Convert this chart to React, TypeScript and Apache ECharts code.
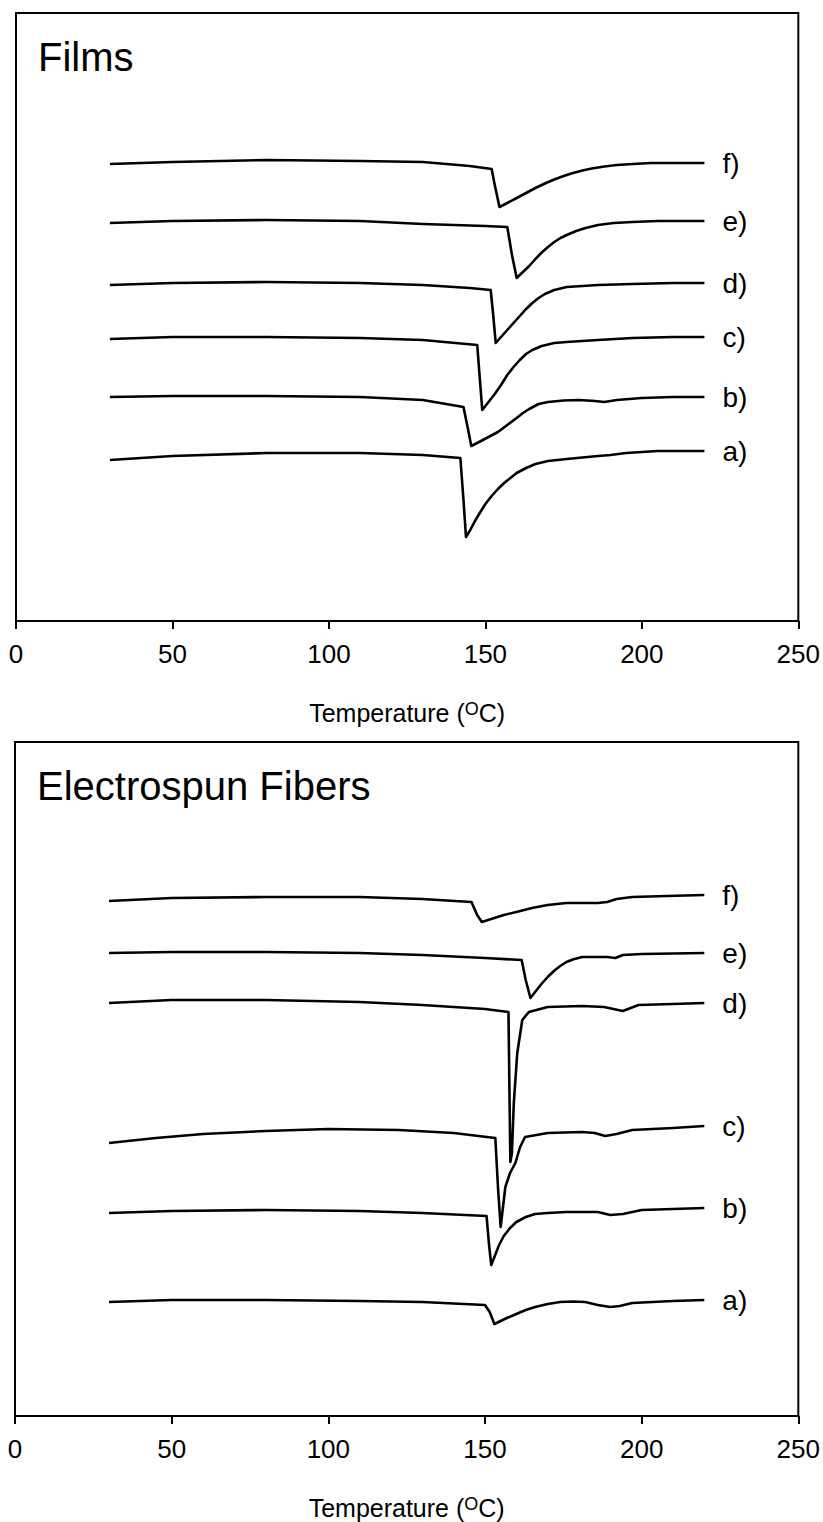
import React, { useEffect, useRef } from "react";
import * as echarts from "echarts";

// Temperature axis ticks (°C)
const tempTicks = [0, 50, 100, 150, 200, 250];
const seriesNames = ["a)", "b)", "c)", "d)", "e)", "f)"];

// DSC heat flow traces (arbitrary units, endotherm down), [temperature °C, signal]
// Films
const filmA = [[30,16.1],[50,16.5],[80,16.8],[110,16.8],[130,16.6],[142,16.3],[143,12.1],[143.8,8.4],[145,9.0],[146.5,9.9],[148,10.7],[150,11.7],[152,12.5],[154,13.2],[156,13.8],[158,14.3],[160,14.8],[163,15.3],[166,15.7],[170,16.0],[176,16.2],[186,16.5],[190,16.6],[195,16.8],[205,17.0],[220,17.0]];
const filmB = [[30,22.4],[50,22.5],[80,22.5],[110,22.4],[130,22.1],[143,21.4],[144.5,19.1],[145.5,17.5],[148,17.9],[151,18.4],[154,18.9],[157,19.6],[160,20.3],[162,20.8],[164,21.2],[167,21.7],[170,21.9],[175,22.05],[180,22.1],[185,22.0],[188,21.9],[192,22.1],[200,22.3],[210,22.4],[220,22.4]];
const filmC = [[30,28.2],[50,28.4],[80,28.4],[110,28.3],[130,28.1],[147.4,27.6],[148.2,24.3],[149,21.1],[151,21.9],[153,22.7],[155,23.6],[157,24.6],[159,25.4],[161,26.1],[163,26.7],[165,27.1],[168,27.5],[172,27.8],[176,27.9],[186,28.1],[197,28.3],[210,28.4],[220,28.4]];
const filmD = [[30,33.6],[50,33.8],[80,33.9],[110,33.8],[130,33.6],[145,33.3],[151.7,33.1],[152.5,30.6],[153.3,27.8],[155,28.4],[157,29.1],[159,29.8],[161,30.5],[163,31.2],[165,31.8],[167,32.3],[169,32.7],[172,33.1],[176,33.4],[181,33.5],[186,33.6],[197,33.7],[210,33.8],[220,33.8]];
const filmE = [[30,39.8],[50,40.0],[80,40.1],[110,40.0],[130,39.7],[150,39.5],[157,39.4],[158.5,36.6],[160,34.3],[162,34.9],[164,35.5],[166,36.2],[168,36.85],[170,37.4],[172,37.9],[174,38.3],[176,38.6],[179,39.0],[182,39.3],[186,39.6],[191,39.8],[197,39.9],[205,40.0],[220,40.0]];
const filmF = [[30,45.7],[50,45.9],[80,46.1],[110,46.0],[130,45.9],[145,45.5],[152,45.2],[153,43.6],[154.5,41.4],[157,41.8],[160,42.3],[163,42.8],[166,43.3],[169,43.75],[172,44.15],[175,44.5],[178,44.8],[181,45.05],[184,45.25],[188,45.45],[192,45.6],[197,45.7],[203,45.8],[220,45.8]];

// Electrospun fibers
const fiberA = [[30,11.4],[50,11.6],[80,11.6],[110,11.5],[130,11.4],[150,11.1],[151.5,10.4],[153,9.2],[155,9.5],[157,9.8],[160,10.2],[163,10.6],[166,10.9],[170,11.2],[174,11.4],[178,11.45],[182,11.4],[186,11.1],[190,10.9],[193,11.0],[197,11.3],[210,11.5],[220,11.6]];
const fiberB = [[30,20.3],[50,20.5],[80,20.6],[110,20.5],[130,20.3],[150.5,20.0],[151.3,17.1],[152,15.1],[153,15.9],[154.5,17.1],[156,18.0],[158,18.8],[160,19.4],[163,19.9],[166,20.2],[170,20.3],[176,20.4],[186,20.4],[190,20.1],[194,20.2],[200,20.6],[220,20.8]];
const fiberC = [[30,27.3],[45,27.8],[60,28.2],[80,28.5],[100,28.7],[122.5,28.6],[140,28.3],[153.3,27.8],[154.2,22.6],[155,18.9],[156.5,22.9],[158,24.3],[159.7,25.3],[161.2,26.9],[162.8,27.9],[170,28.3],[181,28.4],[185,28.3],[188.4,28.0],[192,28.2],[197,28.6],[210,28.8],[220,29.0]];
const fiberD = [[30,41.3],[50,41.6],[80,41.6],[110,41.4],[130,41.1],[150,40.7],[157.5,40.4],[157.8,32.6],[158.1,25.4],[158.6,26.3],[159.2,31.3],[160.3,36.3],[161.9,39.6],[164,40.4],[170,40.9],[181,41.0],[188,40.9],[191,40.7],[194,40.5],[199,41.1],[210,41.2],[220,41.3]];
const fiberE = [[30,46.3],[50,46.4],[80,46.4],[110,46.3],[130,46.1],[150,45.8],[161.7,45.6],[163,43.6],[164.5,41.8],[166,42.4],[168,43.2],[170,43.9],[172,44.5],[174,45.0],[176,45.4],[178,45.65],[181,45.9],[186,45.9],[189,45.9],[191.6,45.8],[194,46.1],[200,46.2],[220,46.3]];
const fiberF = [[30,51.5],[50,51.8],[80,51.9],[110,51.9],[130,51.7],[145.7,51.4],[147.5,50.1],[149,49.4],[152,49.7],[156,50.1],[160,50.4],[165,50.8],[170,51.1],[176,51.3],[186,51.3],[189,51.4],[192,51.7],[197,51.9],[208,52.0],[220,52.1]];

const filmSeries = [filmA, filmB, filmC, filmD, filmE, filmF];
const fiberSeries = [fiberA, fiberB, fiberC, fiberD, fiberE, fiberF];

const FONT = "'Liberation Sans', Arial, Helvetica, sans-serif";

export default function App() {
  const ref = useRef<HTMLDivElement>(null);

  useEffect(() => {
    if (!ref.current) return;
    const chart = echarts.init(ref.current, undefined, { renderer: "svg" });

    const xAxisBase = (gridIndex: number) => ({
      type: "value",
      gridIndex,
      min: tempTicks[0],
      max: tempTicks[tempTicks.length - 1],
      interval: 50,
      axisLine: { show: true, onZero: false, lineStyle: { color: "#000", width: 2 } },
      axisTick: { show: true, inside: false, length: 8, lineStyle: { color: "#000", width: 2 } },
      axisLabel: { color: "#000", fontSize: 26, fontFamily: FONT, margin: 20 },
      splitLine: { show: false },
      name: "Temperature ({s|O}C)",
      nameLocation: "middle",
      nameGap: 79,
      nameTextStyle: {
        color: "#000",
        fontSize: 25,
        fontFamily: FONT,
        rich: { s: { fontSize: 18, fontFamily: FONT, color: "#000", verticalAlign: "top" } },
      },
    });

    const makeSeries = (sets: number[][][], idx: number) =>
      sets.map((d, i) => ({
        type: "line",
        name: seriesNames[i],
        xAxisIndex: idx,
        yAxisIndex: idx,
        data: d,
        showSymbol: false,
        symbol: "none",
        lineStyle: { color: "#000", width: 2.6, join: "round" },
        itemStyle: { color: "#000" },
        endLabel: {
          show: true,
          formatter: "{a}",
          distance: 18,
          color: "#000",
          fontSize: 28,
          fontFamily: FONT,
        },
        emphasis: { disabled: true },
      }));

    chart.setOption({
      animation: false,
      backgroundColor: "#fff",
      grid: [
        { left: 16, top: 13, width: 787, height: 608, show: true, borderColor: "#000", borderWidth: 2, backgroundColor: "transparent" },
        { left: 15, top: 742, width: 788, height: 674, show: true, borderColor: "#000", borderWidth: 2, backgroundColor: "transparent" },
      ],
      xAxis: [xAxisBase(0), xAxisBase(1)],
      yAxis: [
        { type: "value", gridIndex: 0, min: 0, max: 60.8, show: false, splitLine: { show: false } },
        { type: "value", gridIndex: 1, min: 0, max: 67.4, show: false, splitLine: { show: false } },
      ],
      graphic: [
        { type: "text", x: 38, y: 57, style: { text: "Films", fontSize: 40, fontFamily: FONT, fill: "#000", align: "left", verticalAlign: "middle" } },
        { type: "text", x: 37, y: 786, style: { text: "Electrospun Fibers", fontSize: 40, fontFamily: FONT, fill: "#000", align: "left", verticalAlign: "middle" } },
      ],
      series: [...makeSeries(filmSeries, 0), ...makeSeries(fiberSeries, 1)],
    });

    return () => chart.dispose();
  }, []);

  return (
    <div
      ref={ref}
      style={{ position: "absolute", left: 0, top: 0, width: 823, height: 1522, background: "#fff" }}
    />
  );
}
